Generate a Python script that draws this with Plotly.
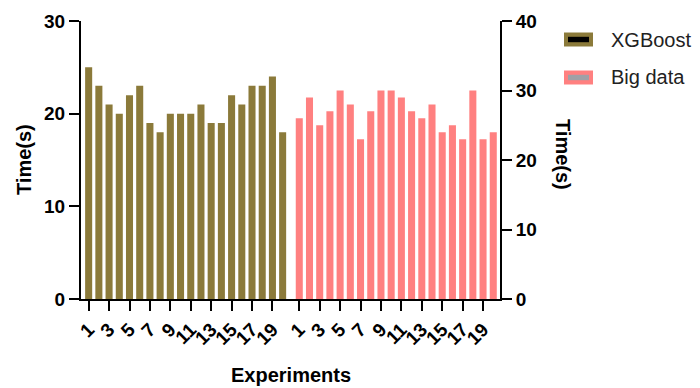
import plotly.graph_objects as go

# ---- data ----
experiments = list(range(1, 21))
xgboost_times = [25, 23, 21, 20, 22, 23, 19, 18, 20, 20, 20, 21, 19, 19, 22, 21, 23, 23, 24, 18]
bigdata_times = [26, 29, 25, 27, 30, 28, 23, 27, 30, 30, 29, 27, 26, 28, 24, 25, 23, 30, 23, 24]
tick_labels = [str(e) for e in experiments if e % 2 == 1]

series_names = ["XGBoost", "Big data"]
OLIVE = "#8B7A3A"
PINK = "#FF8080"
GRAY = "#A0A0A6"

GAP = 0.63  # extra spacing between the two groups (in category units)
x_left = [e for e in experiments]
x_right = [20 + GAP + e for e in experiments]
tick_vals = [x for x, e in zip(x_left, experiments) if e % 2 == 1] + \
            [x for x, e in zip(x_right, experiments) if e % 2 == 1]
tick_text = tick_labels + tick_labels

FONT = "Arial, Liberation Sans, sans-serif"

fig = go.Figure()
fig.add_trace(go.Bar(x=x_left, y=xgboost_times, name=series_names[0],
                     marker=dict(color=OLIVE, line=dict(width=0)),
                     width=0.69, showlegend=False, yaxis="y"))
fig.add_trace(go.Bar(x=x_right, y=bigdata_times, name=series_names[1],
                     marker=dict(color=PINK, line=dict(width=0)),
                     width=0.69, showlegend=False, yaxis="y2"))

L, R, T, B = 81, 200, 21, 89
W, H = 700, 388
pw = W - L - R
ph = H - T - B


def px_x(px):
    return (px - L) / pw


def px_y(py):
    return (H - B - py) / ph


axis_common = dict(showline=True, linewidth=2, linecolor="black", ticks="outside",
                   ticklen=10, tickwidth=2, tickcolor="black", showgrid=False,
                   zeroline=False,
                   tickfont=dict(family=FONT, size=19, color="black", weight="bold"))

fig.update_layout(
    width=W, height=H,
    margin=dict(l=L, r=R, t=T, b=B),
    paper_bgcolor="white", plot_bgcolor="white",
    barmode="overlay",
    showlegend=False,
    xaxis=dict(range=[0.25, 41.29], tickmode="array", tickvals=tick_vals,
               ticktext=tick_text, tickangle=-45, **axis_common),
    yaxis=dict(range=[0, 30], dtick=10, **axis_common),
    yaxis2=dict(range=[0, 40], dtick=10, overlaying="y", side="right", **axis_common),
)

title_font = dict(family=FONT, size=20, color="black", weight="bold")
fig.add_annotation(text="Time(s)", xref="paper", yref="paper", x=px_x(24), y=0.5,
                   textangle=-90, showarrow=False, font=title_font,
                   xanchor="center", yanchor="middle")
fig.add_annotation(text="Time(s)", xref="paper", yref="paper", x=px_x(563), y=px_y(154),
                   textangle=90, showarrow=False, font=title_font,
                   xanchor="center", yanchor="middle")
fig.add_annotation(text="Experiments", xref="paper", yref="paper", x=0.5, y=px_y(375),
                   showarrow=False, font=title_font, xanchor="center", yanchor="middle")

# legend drawn manually (GraphPad style)
legend_items = [(series_names[0], OLIVE, "black", 39.5), (series_names[1], PINK, GRAY, 77.5)]
for name, outer, inner, cy in legend_items:
    fig.add_shape(type="rect", xref="paper", yref="paper",
                  x0=px_x(564), x1=px_x(593), y0=px_y(cy - 7), y1=px_y(cy + 7),
                  fillcolor=outer, line=dict(width=0))
    fig.add_shape(type="rect", xref="paper", yref="paper",
                  x0=px_x(568), x1=px_x(589), y0=px_y(cy - 2.7), y1=px_y(cy + 2.7),
                  fillcolor=inner, line=dict(width=0))
    fig.add_annotation(text=name, xref="paper", yref="paper", x=px_x(609), y=px_y(cy),
                       showarrow=False, xanchor="left", yanchor="middle",
                       font=dict(family=FONT, size=20, color="#222222"))

fig.write_html("out.html", config={"displayModeBar": False},
               post_script="document.body.style.margin='0px';document.body.style.padding='0px';")
